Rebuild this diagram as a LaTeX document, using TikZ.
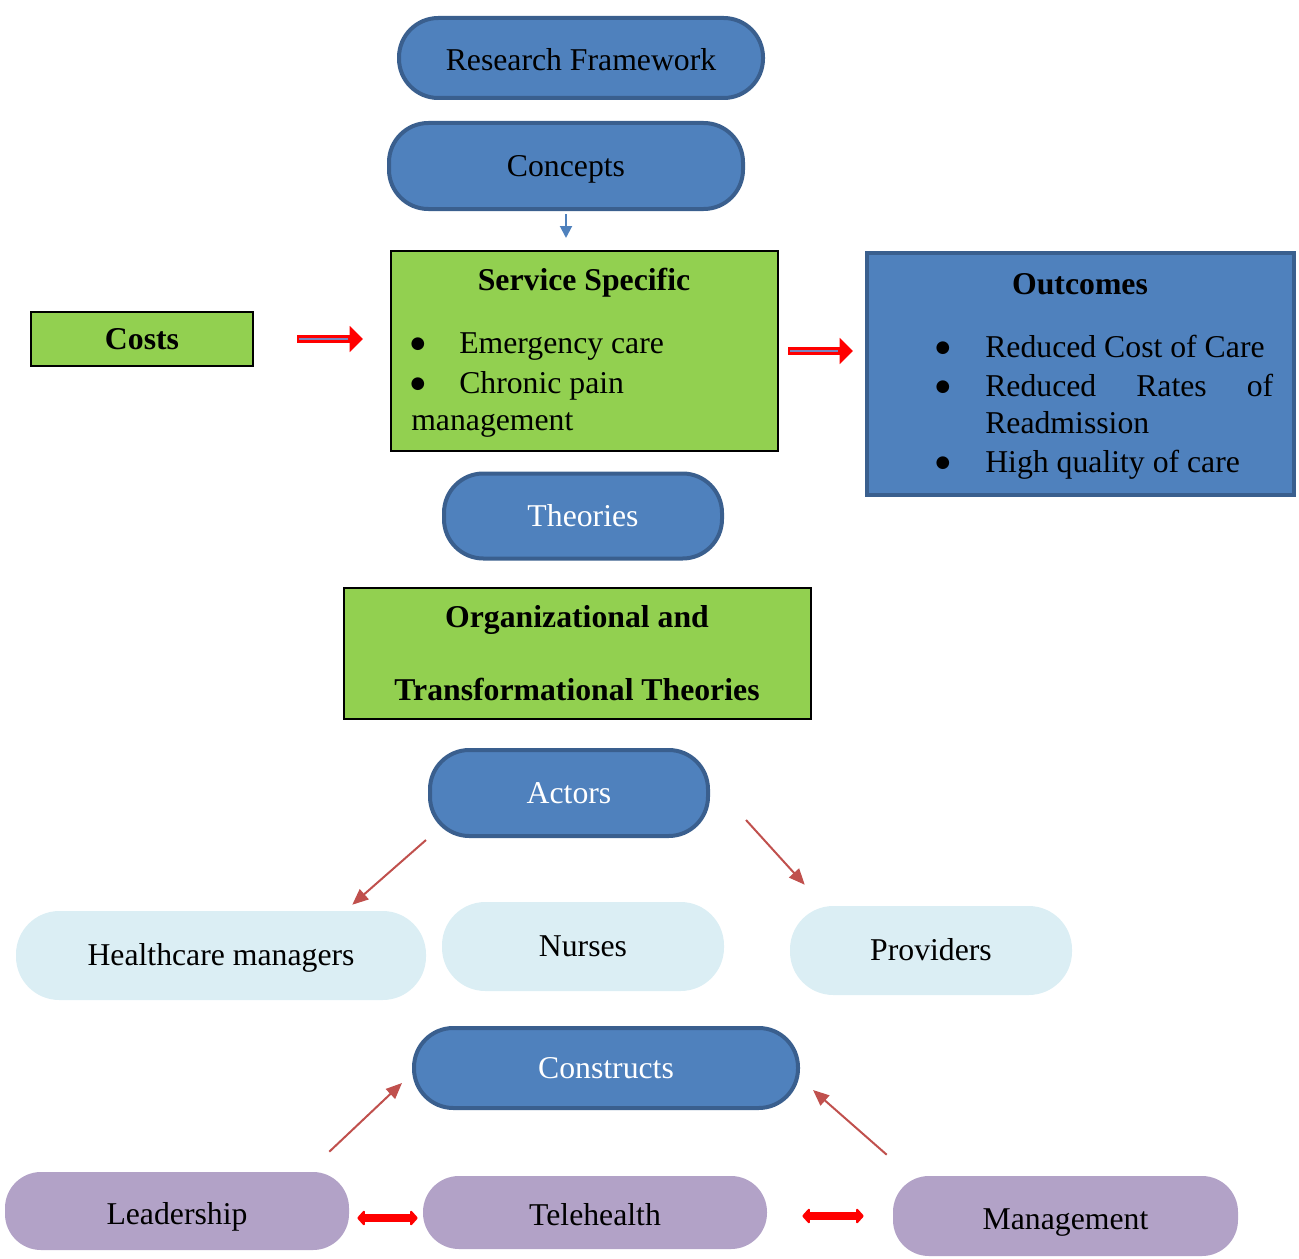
\documentclass[tikz,border=0pt]{standalone}
\usepackage{fontspec}
\setmainfont{Liberation Serif}
\newfontfamily\symfont{DejaVu Sans}
\usetikzlibrary{arrows.meta,calc}
\definecolor{pblue}{HTML}{4F81BD}
\definecolor{pborder}{HTML}{3A5F8E}
\definecolor{lgreen}{HTML}{92D050}
\definecolor{lblue}{HTML}{DBEEF4}
\definecolor{lpurple}{HTML}{B2A2C7}
\definecolor{tred}{HTML}{C0504D}
\definecolor{midblue}{HTML}{7A86C0}
\newcommand{\bigbul}{\raisebox{3.5pt}{\symfont\fontsize{12.5}{14}\selectfont ●}}
\tikzset{
  sz/.style n args={2}{minimum width=#1*0.75pt, minimum height=#2*0.75pt},
  bpill/.style={rounded corners=29.5pt, fill=pblue, draw=pborder, line width=3pt, inner sep=0, text height=17pt, text depth=2pt},
  lpill/.style={rounded corners=32.5pt, fill=lblue, inner sep=0, text height=17pt, text depth=2pt},
  ppill/.style={rounded corners=27pt, fill=lpurple, inner sep=0, text height=21pt, text depth=1pt},
  gbox/.style={fill=lgreen, draw=black, line width=1.5pt, inner sep=0},
  obox/.style={fill=pblue, draw=pborder, line width=3pt, inner sep=0},
  txt/.style={inner sep=0, anchor=base west},
  ttl/.style={inner sep=0, anchor=base},
  bul/.style={inner sep=0, anchor=base},
  bluearrow/.style={draw=pblue, line width=1.5pt, -{Triangle[length=9pt,width=9pt]}},
  redblock/.style={draw=red, line width=6pt, -{Triangle[length=10pt,width=19pt]}},
  midline/.style={draw=midblue, line width=1pt},
  thinred/.style={draw=tred, line width=1.5pt, -{Triangle[length=12pt,width=10pt]}},
  dred/.style={draw=red, line width=6pt, {Triangle[length=6pt,width=13pt,round]}-{Triangle[length=6pt,width=13pt,round]}}
}
\begin{document}
\begin{tikzpicture}[x=0.75pt,y=-0.75pt,
  every node/.style={font=\fontsize{23.8}{28}\selectfont}]
\useasboundingbox (0,0) rectangle (1299,1259);

% blue pills
\node[bpill, sz={364}{80}, text height=20pt, text depth=1pt] (rf) at (581,58) {Research Framework};
\node[bpill, sz={354}{86}] (concepts) at (566,166) {Concepts};
\node[bpill, sz={278}{85}, text=white] (theories) at (583,516) {Theories};
\node[bpill, sz={278}{86}, text=white] (actors) at (569,793) {Actors};
\node[bpill, sz={384}{80}, text=white] (constructs) at (606,1068) {Constructs};

% green boxes and outcomes
\node[gbox, sz={222}{54}, text height=17pt, text depth=2pt] (costs) at (142,339) {\bfseries Costs};
\node[gbox, sz={387}{200}] (service) at (584.5,351) {};
\node[gbox, sz={467}{131}] (org) at (577.5,653.5) {};
\node[obox, sz={427}{242}] (outcomes) at (1080.5,374) {};

% service specific text
\node[ttl] (sstitle) at (584,290) {\bfseries Service Specific};
\node[bul] (sb1) at (418,353) {\bigbul};
\node[bul] (sb2) at (418,393) {\bigbul};
\node[txt] (s1) at (459,353) {Emergency care};
\node[txt] (s2) at (459,393) {Chronic pain};
\node[txt] (s3) at (411,430) {management};

% outcomes text
\node[ttl] (otitle) at (1080,294) {\bfseries Outcomes};
\node[bul] (ob1) at (943,357) {\bigbul};
\node[bul] (ob2) at (943,396) {\bigbul};
\node[bul] (ob3) at (943,472) {\bigbul};
\node[txt] (o1) at (985,357) {Reduced Cost of Care};
\node[txt] (o2) at (985,396) {\makebox[216pt][s]{Reduced\hfill Rates\hfill of}};
\node[txt] (o3) at (985,433) {Readmission};
\node[txt] (o4) at (985,472) {High quality of care};

% organizational text
\node[ttl] (org1) at (577,627) {\bfseries Organizational and};
\node[ttl] (org2) at (577,700) {\bfseries Transformational Theories};

% light blue pills
\node[lpill, sz={410}{89}] (hm) at (221,955.5) {Healthcare managers};
\node[lpill, sz={282}{89}] (nurses) at (583,946.5) {Nurses};
\node[lpill, sz={282}{89}] (providers) at (931,950.5) {Providers};

% purple pills
\node[ppill, sz={344}{78}] (leadership) at (177,1211) {Leadership};
\node[ppill, sz={344}{73}] (telehealth) at (595,1212.5) {Telehealth};
\node[ppill, sz={345}{80}] (management) at (1065.5,1216) {Management};

% connectors
\draw[bluearrow, shorten <=3*0.75pt, shorten >=12*0.75pt] (concepts.south) -- (concepts.south |- service.north);

\draw[redblock, shorten <=43*0.75pt, shorten >=27*0.75pt] (costs.east) -- (costs.east -| service.west);
\draw[midline, shorten <=45*0.75pt, shorten >=42*0.75pt] (costs.east) -- (costs.east -| service.west);
\draw[redblock, shorten <=9*0.75pt, shorten >=12*0.75pt] (service.east) -- (service.east -| outcomes.west);
\draw[midline, shorten <=11*0.75pt, shorten >=27*0.75pt] (service.east) -- (service.east -| outcomes.west);

\draw[thinred] ($(actors.south west)+(-2,2)$) -- ($(hm.north east)+(-74,-6)$);
\draw[thinred] ($(actors.east)+(36,27)$) -- ($(providers.north west)+(15,-21)$);
\draw[thinred] ($(leadership.north east)+(-20,-20)$) -- ($(constructs.west)+(-10,15)$);
\draw[thinred] ($(management.north west)+(-6,-21)$) -- ($(constructs.east)+(13,22)$);

\draw[dred, shorten <=8*0.75pt, shorten >=5*0.75pt] ($(leadership.east)+(0,7)$) -- ($(telehealth.west)+(0,5.5)$);
\draw[dred, shorten <=35*0.75pt, shorten >=29*0.75pt] ($(telehealth.east)+(0,3.5)$) -- (management.west);
\end{tikzpicture}
\end{document}
